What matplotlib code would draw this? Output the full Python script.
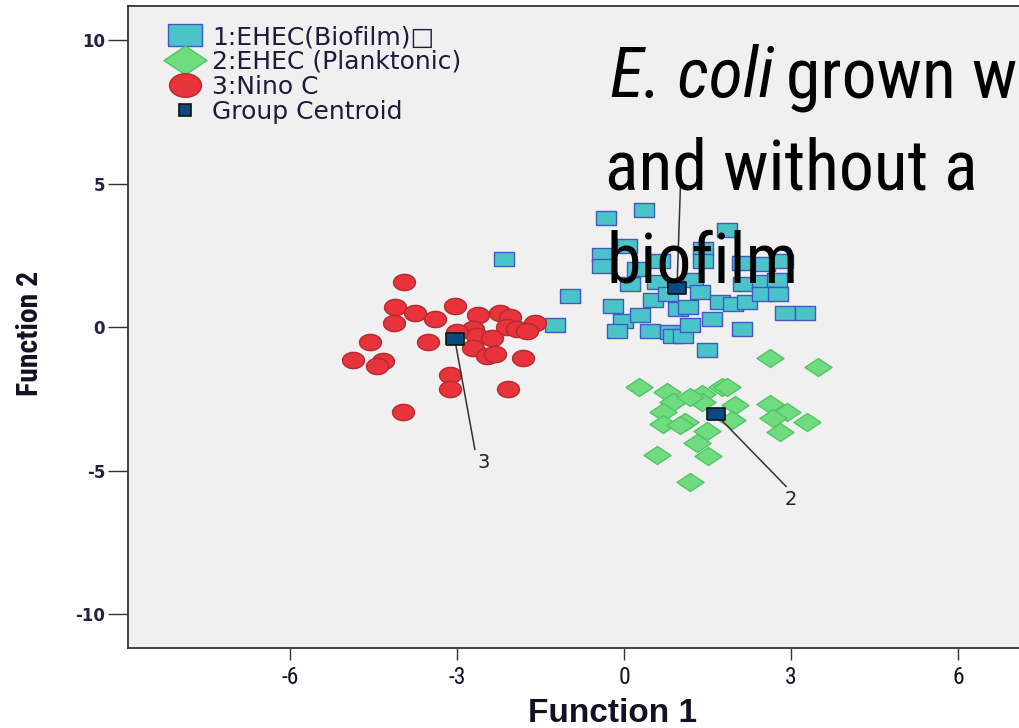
import numpy as np
import matplotlib
matplotlib.use('Agg')
import matplotlib.pyplot as plt
from matplotlib.lines import Line2D
from matplotlib import font_manager

plt.rcParams['axes.unicode_minus'] = False

# --- dados ---
bio_x = [-2.16, -0.97, -1.24, -0.32, 0.36, -0.40, -0.40, 0.05, 0.11, -0.20, -0.02, -0.13,
         0.52, 0.47, 0.83, 0.97, 0.88, 0.59, 0.23, 1.85, 1.42, 1.42, 2.12, 2.53, 2.86,
         1.24, 2.14, 2.48, 2.75, 1.37, 1.72, 1.96, 2.21, 2.48, 2.77, 1.58, 2.89, 3.25,
         2.12, 1.06, 1.49, 1.15, 0.65, 0.79, 0.29, 1.19]
bio_y = [2.40, 1.08, 0.07, 3.80, 4.08, 2.54, 2.13, 2.82, 1.50, 0.73, 0.21, -0.14,
         0.94, -0.14, -0.17, 0.63, -0.31, 1.57, 2.02, 3.38, 2.72, 2.30, 2.23, 2.20, 2.30,
         1.67, 1.53, 1.57, 1.67, 1.22, 0.87, 0.80, 0.87, 1.15, 1.18, 0.28, 0.52, 0.52,
         -0.07, -0.31, -0.77, 0.70, 2.30, 1.15, 0.45, 0.10]

plank_x = [0.27, 0.77, 1.40, 1.76, 0.88, 0.70, 1.40, 0.70, 1.10, 1.01, 1.49, 1.31, 0.59,
           1.51, 1.19, 2.62, 3.48, 1.85, 1.99, 2.62, 2.93, 2.68, 3.29, 2.80, 1.94, 1.19]
plank_y = [-2.09, -2.26, -2.33, -2.06, -2.61, -2.93, -2.61, -3.38, -3.28, -3.41, -3.62,
           -4.01, -4.46, -4.49, -5.37, -1.08, -1.39, -2.09, -2.72, -2.68, -2.93, -3.14,
           -3.28, -3.66, -3.21, -2.44]

nino_x = [-3.95, -4.11, -3.75, -3.40, -4.13, -4.56, -3.52, -4.87, -4.33, -4.44, -3.13,
          -3.13, -3.97, -3.04, -2.62, -2.23, -2.05, -1.60, -2.10, -1.92, -1.74, -2.71,
          -2.64, -2.37, -3.00, -2.71, -2.46, -2.32, -1.81, -2.08]
nino_y = [1.57, 0.70, 0.49, 0.31, 0.14, -0.52, -0.52, -1.15, -1.18, -1.36, -1.67,
          -2.16, -2.93, 0.73, 0.45, 0.52, 0.35, 0.17, 0.00, -0.07, -0.14, -0.07,
          -0.31, -0.38, -0.17, -0.70, -1.01, -0.94, -1.05, -2.13]

cent_x = [0.95, 1.65, -3.04]
cent_y = [1.39, -3.03, -0.42]
# fim das linhas dos centroides e rotulos visiveis (o "1" fica escondido pelo texto)
fim_x = [1.02, 2.91, -2.68]
fim_y = [5.35, -5.54, -4.25]
rot_txt = ['2', '3']
rot_x = [2.99, -2.53]
rot_y = [-5.99, -4.70]

legend_labels = ['1:EHEC(Biofilm)\u25a1', '2:EHEC (Planktonic)', '3:Nino C', 'Group Centroid']
titulo = ['E. coli', 'grown with', 'and without a', 'biofilm']

# --- fonte estreita, se existir ---
nomes = {f.name for f in font_manager.fontManager.ttflist}
estreita, esticar = 'Liberation Sans', 'normal'
for cand in ['Liberation Sans Narrow', 'Roboto Condensed', 'Noto Sans Condensed',
             'Open Sans Condensed', 'DejaVu Sans Condensed']:
    if cand in nomes:
        estreita = cand
        break
else:
    cond = [f for f in font_manager.fontManager.ttflist
            if f.stretch in ('condensed', 'semi-condensed') and 'Sans' in f.name]
    if cond:
        estreita, esticar = cond[0].name, cond[0].stretch
fam_estreita = [estreita, 'Liberation Sans', 'DejaVu Sans']

# --- formas dos marcadores (achatadas como na imagem) ---
rect_m = [(-1.45, -1), (1.45, -1), (1.45, 1), (-1.45, 1), (-1.45, -1)]
t = np.linspace(0, 2 * np.pi, 41)
ell_m = list(zip(1.35 * np.cos(t), np.sin(t)))
diam_m = [(0, 1), (1.5, 0), (0, -1), (-1.5, 0), (0, 1)]
cent_m = [(-1.7, -1), (1.7, -1), (1.7, 1), (-1.7, 1), (-1.7, -1)]

teal, teal_e = '#4bc4c9', '#4257c0'
red, red_e = '#e8333b', '#b52a30'
green, green_e = '#6fdc7f', '#52c464'
navy = '#0a4a80'

fig = plt.figure(figsize=(10.2, 7.28), dpi=100)
fig.patch.set_facecolor('white')
ax = fig.add_axes([128 / 1020, 80 / 728, 912 / 1020, 642 / 728])
ax.set_facecolor('#f0f0f0')

ax.scatter(bio_x, bio_y, s=207, marker=rect_m, c=teal, edgecolors=teal_e, linewidths=1.0, zorder=3)
ax.scatter(plank_x, plank_y, s=378, marker=diam_m, c=green, edgecolors=green_e, linewidths=1.0, zorder=3)
ax.scatter(nino_x, nino_y, s=250, marker=ell_m, c=red, edgecolors=red_e, linewidths=1.0, zorder=3)

for cx, cy, fx, fy in zip(cent_x, cent_y, fim_x, fim_y):
    ax.plot([cx, fx], [cy, fy], color='#333333', lw=1.1, zorder=4)
for tx, x, y in zip(rot_txt, rot_x, rot_y):
    ax.text(x, y, tx, fontsize=14, color='#222222', ha='center', va='center', zorder=4)
ax.scatter(cent_x, cent_y, s=187, marker=cent_m, c=navy, edgecolors='#111111', linewidths=1.2, zorder=5)

ax.set_xlim(-8.91, 7.47)
ax.set_ylim(-11.17, 11.2)
ax.set_xticks([-6, -3, 0, 3, 6])
ax.set_yticks([-10, -5, 0, 5, 10])
ax.tick_params(axis='y', length=14.4, width=1.0, pad=2, color='#333333')
ax.tick_params(axis='x', length=8.6, width=1.0, pad=4, color='#333333')
for lab in ax.get_yticklabels():
    lab.set_fontfamily('DejaVu Sans')
    lab.set_fontweight('bold')
    lab.set_fontsize(12)
    lab.set_color('#222244')
for lab in ax.get_xticklabels():
    lab.set_fontfamily(fam_estreita)
    lab.set_fontstretch(esticar)
    lab.set_fontsize(17)
    lab.set_color('#111122')
for sp in ax.spines.values():
    sp.set_color('#333333')
    sp.set_linewidth(1.3)

fig.text(613 / 1020, 1 - 713 / 728, 'Function 1', ha='center', va='center',
         fontsize=24, fontweight='bold', family=['Liberation Sans', 'DejaVu Sans'], color='#111122')
ylab = fig.text(30 / 1020, 1 - 333 / 728, 'Function 2', ha='center', va='center', rotation=90,
                fontsize=21, fontweight='bold', family=fam_estreita, fontstretch=esticar,
                color='#111122')

# legenda
handles = [
    Line2D([], [], ls='none', marker=rect_m, markersize=23.8, mfc=teal, mec=teal_e, mew=1.0),
    Line2D([], [], ls='none', marker=diam_m, markersize=31, mfc=green, mec=green_e, mew=1.0),
    Line2D([], [], ls='none', marker=ell_m, markersize=23, mfc=red, mec=red_e, mew=1.0),
    Line2D([], [], ls='none', marker='s', markersize=8, mfc=navy, mec='#111111', mew=1.2),
]
leg = ax.legend(handles, legend_labels, loc='upper left', bbox_to_anchor=(167.5 / 1020, 1 - 25 / 728),
                bbox_transform=fig.transFigure, frameon=False, borderpad=0, borderaxespad=0,
                handlelength=1.4, handletextpad=0.38, labelspacing=0.035,
                prop={'family': 'DejaVu Sans', 'size': 18})
for txt in leg.get_texts():
    txt.set_color('#1b1b3a')

# texto sobreposto
big = dict(fontsize=56, family=fam_estreita, fontstretch=esticar, color='black',
           va='baseline', ha='left', zorder=10)
t1 = fig.text(610 / 1020, 1 - 97 / 728, titulo[0], style='italic', **big)
t2 = fig.text(0, 1 - 97 / 728, titulo[1], **big)
t3 = fig.text(605 / 1020, 1 - 190 / 728, titulo[2], **big)
t4 = fig.text(607 / 1020, 1 - 283 / 728, titulo[3], **big)

# ajusta tamanhos pela largura medida no original
fig.canvas.draw()
r = fig.canvas.get_renderer()
escala = 373 / t3.get_window_extent(r).width
for tt in (t1, t2, t3, t4):
    tt.set_fontsize(56 * escala)
esc_y = 125 / ylab.get_window_extent(r).height
ylab.set_fontsize(21 * esc_y)
fig.canvas.draw()
bb = t1.get_window_extent(r)
t2.set_x((bb.x1 + 12) / 1020)

fig.savefig('out.png', dpi=100)
